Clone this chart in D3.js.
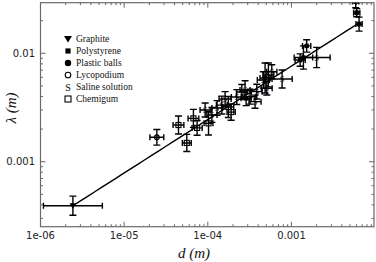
<!DOCTYPE html>
<html><head><meta charset="utf-8">
<script src="https://cdn.jsdelivr.net/npm/d3@7"></script>
<style>body{margin:0;background:#fff;overflow:hidden}</style>
</head><body>
<svg id="chart" width="376" height="262"></svg>
<script>
// ---- data ----
const seriesNames = ["Graphite","Polystyrene","Plastic balls","Lycopodium","Saline solution","Chemigum"];
const pointSeries = [
  "Graphite","Lycopodium",
  "Chemigum","Chemigum","Chemigum","Chemigum","Saline solution","Chemigum","Saline solution","Saline solution",
  "Saline solution","Saline solution","Chemigum","Chemigum","Saline solution","Saline solution","Saline solution","Polystyrene",
  "Saline solution","Saline solution","Saline solution","Saline solution","Polystyrene","Saline solution","Saline solution","Saline solution",
  "Saline solution",
  "Polystyrene","Polystyrene","Saline solution","Polystyrene",
  "Plastic balls","Plastic balls","Plastic balls"
];
const dValues = [
  2.44e-6, 2.46e-5,
  4.46e-5, 5.61e-5, 6.73e-5, 7.45e-5, 9.29e-5, 1.02e-4, 1.12e-4, 1.29e-4,
  1.47e-4, 1.61e-4, 1.76e-4, 1.90e-4, 2.22e-4, 2.55e-4, 2.79e-4, 2.87e-4,
  3.20e-4, 3.67e-4, 3.85e-4, 4.61e-4, 4.84e-4, 5.30e-4, 5.07e-4, 5.82e-4,
  7.73e-4,
  1.39e-3, 1.52e-3, 2.00e-3, 1.27e-3,
  6.03e-3, 6.43e-3, 5.86e-3
];
const lambdaValues = [
  3.93e-4, 1.68e-3,
  2.18e-3, 1.49e-3, 2.51e-3, 2.05e-3, 3.00e-3, 2.26e-3, 2.70e-3, 3.13e-3,
  3.33e-3, 3.79e-3, 3.20e-3, 2.87e-3, 3.95e-3, 4.40e-3, 4.58e-3, 3.85e-3,
  3.98e-3, 3.58e-3, 4.43e-3, 5.68e-3, 5.92e-3, 6.31e-3, 4.75e-3, 6.76e-3,
  5.80e-3,
  9.14e-3, 1.17e-2, 9.14e-3, 8.67e-3,
  2.37e-2, 1.86e-2, 3.00e-2
];
const dErrFactor = [
  2.25, 1.21,
  1.16, 1.13, 1.16, 1.15, 1.15, 1.13, 1.15, 1.15,
  1.16, 1.18, 1.16, 1.12, 1.16, 1.16, 1.15, 1.15,
  1.18, 1.18, 1.16, 1.18, 1.15, 1.16, 1.16, 1.15,
  1.32,
  1.29, 1.12, 1.45, 1.15,
  1.09, 1.09, 1.09
];
const lambdaErrFactor = [
  1.224, 1.18,
  1.21, 1.20, 1.21, 1.17, 1.16, 1.28, 1.17, 1.17,
  1.21, 1.17, 1.25, 1.19, 1.17, 1.17, 1.22, 1.17,
  1.17, 1.15, 1.17, 1.19, 1.375, 1.29, 1.15, 1.16,
  1.21,
  1.28, 1.14, 1.24, 1.14,
  1.09, 1.16, 1.14
];
const fitPrefactor = 0.2296;   // lambda = A * d^b
const fitExponent = 0.493;
const fitDRange = [2.44e-6, 6.47e-3];
const xDomain = [1e-6, 9.7e-3];
const yDomain = [2.515e-4, 2.93e-2];
const xTickValues = [1e-6, 1e-5, 1e-4, 1e-3];
const xTickLabels = ["1e-06", "1e-05", "1e-04", "0.001"];
const yTickValues = [1e-3, 1e-2];
const yTickLabels = ["0.001", "0.01"];

// ---- layout ----
const svg = d3.select("#chart");
const L = 40.5, R = 374, T = 2.7, B = 226.7;
const x = d3.scaleLog().domain(xDomain).range([L, R]);
const y = d3.scaleLog().domain(yDomain).range([B, T]);

svg.append("defs").append("clipPath").attr("id","clip")
  .append("rect").attr("x", L).attr("y", T).attr("width", R - L).attr("height", B - T);

function minorTicks(domain) {
  const out = [];
  const lo = Math.floor(Math.log10(domain[0])), hi = Math.ceil(Math.log10(domain[1]));
  for (let e = lo; e <= hi; e++) for (let k = 2; k <= 9; k++) {
    const v = k * Math.pow(10, e);
    if (v > domain[0] && v < domain[1]) out.push(v);
  }
  return out;
}
const frameColor = "#6a6a6a";
const g = svg.append("g");
const xMin = minorTicks(xDomain), yMin = minorTicks(yDomain);
const tickG = g.append("g").attr("stroke", frameColor).attr("stroke-width", 1);
xTickValues.forEach(v => {
  tickG.append("line").attr("x1", x(v)).attr("x2", x(v)).attr("y1", B).attr("y2", B - 5);
  tickG.append("line").attr("x1", x(v)).attr("x2", x(v)).attr("y1", T).attr("y2", T + 5);
});
xMin.forEach(v => {
  tickG.append("line").attr("x1", x(v)).attr("x2", x(v)).attr("y1", B).attr("y2", B - 2.5);
  tickG.append("line").attr("x1", x(v)).attr("x2", x(v)).attr("y1", T).attr("y2", T + 2.5);
});
yTickValues.forEach(v => {
  tickG.append("line").attr("y1", y(v)).attr("y2", y(v)).attr("x1", L).attr("x2", L + 5);
  tickG.append("line").attr("y1", y(v)).attr("y2", y(v)).attr("x1", R).attr("x2", R - 5);
});
yMin.forEach(v => {
  tickG.append("line").attr("y1", y(v)).attr("y2", y(v)).attr("x1", L).attr("x2", L + 2.5);
  tickG.append("line").attr("y1", y(v)).attr("y2", y(v)).attr("x1", R).attr("x2", R - 2.5);
});
g.append("rect").attr("x", L).attr("y", T).attr("width", R - L).attr("height", B - T)
  .attr("fill", "none").attr("stroke", frameColor).attr("stroke-width", 1.2);

const labFont = "'DejaVu Sans', sans-serif";
xTickValues.forEach((v, i) => {
  g.append("text").attr("x", x(v)).attr("y", 239).attr("text-anchor", "middle")
    .attr("font-family", labFont).attr("font-size", 10).attr("fill", "#222").text(xTickLabels[i]);
});
yTickValues.forEach((v, i) => {
  g.append("text").attr("x", 35).attr("y", y(v)).attr("text-anchor", "end").attr("dominant-baseline", "central")
    .attr("font-family", labFont).attr("font-size", 10).attr("fill", "#222").text(yTickLabels[i]);
});
const serif = "'Liberation Serif', 'DejaVu Serif', serif";
g.append("text").attr("x", 194).attr("y", 258).attr("text-anchor", "middle")
  .attr("font-family", serif).attr("font-style", "italic").attr("font-size", 15).attr("fill", "#111")
  .text("d (m)");
g.append("text").attr("transform", "translate(16,108) rotate(-90)").attr("text-anchor", "middle")
  .attr("font-family", serif).attr("font-style", "italic").attr("font-size", 15).attr("fill", "#111")
  .text("λ (m)");

const plot = svg.append("g").attr("clip-path", "url(#clip)");
const fitPts = d3.range(0, 41).map(i => {
  const ld = Math.log10(fitDRange[0]) + i / 40 * (Math.log10(fitDRange[1]) - Math.log10(fitDRange[0]));
  const d = Math.pow(10, ld);
  return [d, fitPrefactor * Math.pow(d, fitExponent)];
});
plot.append("path").attr("d", d3.line().x(p => x(p[0])).y(p => y(p[1]))(fitPts))
  .attr("fill", "none").attr("stroke", "#000").attr("stroke-width", 1.4);

const eb = plot.append("g").attr("stroke", "#000").attr("stroke-width", 1.4).attr("fill", "none");
dValues.forEach((d, i) => {
  const l = lambdaValues[i], fx = dErrFactor[i], fy = lambdaErrFactor[i];
  const cx = x(d), cy = y(l);
  const x0 = x(d / fx), x1 = x(d * fx), y0 = y(l * fy), y1 = y(l / fy);
  eb.append("line").attr("x1", x0).attr("x2", x1).attr("y1", cy).attr("y2", cy);
  eb.append("line").attr("x1", x0).attr("x2", x0).attr("y1", cy - 3).attr("y2", cy + 3);
  eb.append("line").attr("x1", x1).attr("x2", x1).attr("y1", cy - 3).attr("y2", cy + 3);
  eb.append("line").attr("x1", cx).attr("x2", cx).attr("y1", y0).attr("y2", y1);
  eb.append("line").attr("x1", cx - 3.5).attr("x2", cx + 3.5).attr("y1", y0).attr("y2", y0);
  eb.append("line").attr("x1", cx - 3.5).attr("x2", cx + 3.5).attr("y1", y1).attr("y2", y1);
});

function drawMarker(sel, name, cx, cy, s) {
  const k = s || 1;
  if (name === "Graphite") {
    sel.append("path").attr("d", `M${cx - 4 * k},${cy - 3 * k}L${cx + 4 * k},${cy - 3 * k}L${cx},${cy + 3.5 * k}Z`).attr("fill", "#000");
  } else if (name === "Polystyrene") {
    sel.append("rect").attr("x", cx - 2.6 * k).attr("y", cy - 2.6 * k).attr("width", 5.2 * k).attr("height", 5.2 * k).attr("fill", "#000");
  } else if (name === "Plastic balls") {
    sel.append("circle").attr("cx", cx).attr("cy", cy).attr("r", 3.2 * k).attr("fill", "#000");
  } else if (name === "Lycopodium") {
    sel.append("circle").attr("cx", cx).attr("cy", cy).attr("r", 2.8 * k).attr("fill", "none").attr("stroke", "#000").attr("stroke-width", 1.1);
  } else if (name === "Saline solution") {
    sel.append("text").attr("x", cx).attr("y", cy).attr("text-anchor", "middle").attr("dominant-baseline", "central")
      .attr("font-family", serif).attr("font-size", 10 * k).attr("fill", "#000").text("S");
  } else if (name === "Chemigum") {
    sel.append("rect").attr("x", cx - 3 * k).attr("y", cy - 3 * k).attr("width", 6 * k).attr("height", 6 * k)
      .attr("fill", "none").attr("stroke", "#000").attr("stroke-width", 1.1);
  }
}
const mk = plot.append("g");
dValues.forEach((d, i) => drawMarker(mk, pointSeries[i], x(d), y(lambdaValues[i]), 0.85));

const lg = svg.append("g");
seriesNames.forEach((name, i) => {
  const cy = 39 + i * 12;
  drawMarker(lg, name, 68, cy, 1);
  lg.append("text").attr("x", 76).attr("y", cy).attr("dominant-baseline", "central")
    .attr("font-family", serif).attr("font-size", 9.5).attr("fill", "#111").text(name);
});
</script>
</body></html>
